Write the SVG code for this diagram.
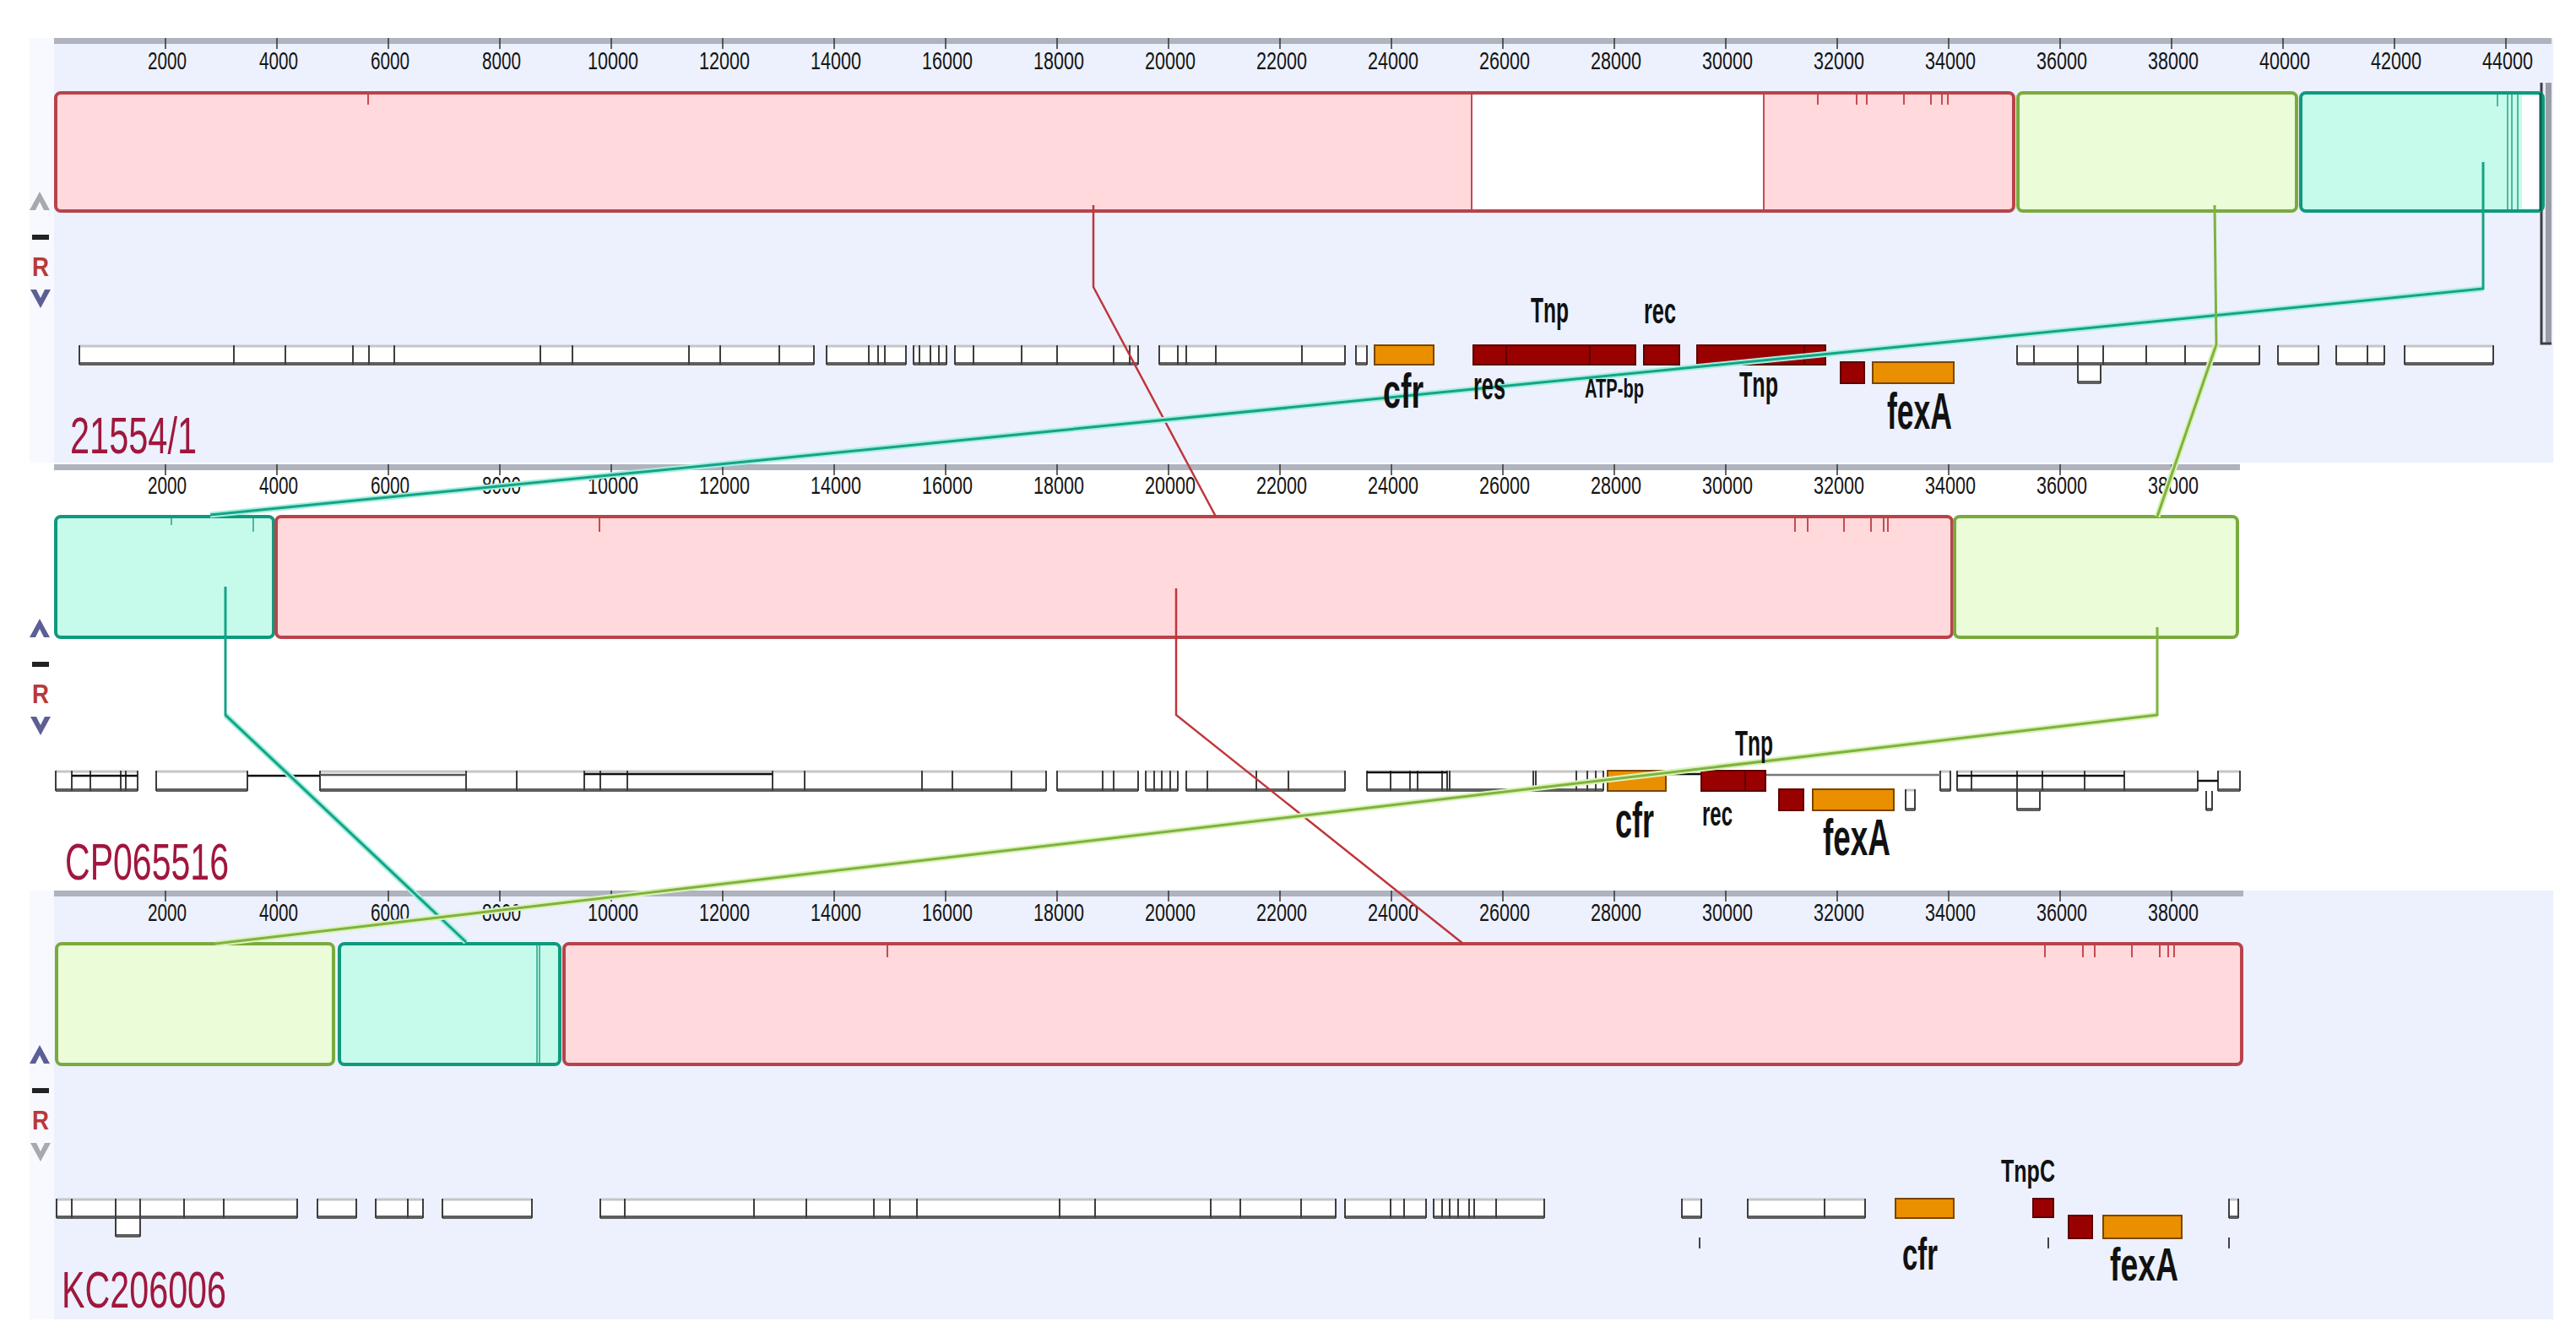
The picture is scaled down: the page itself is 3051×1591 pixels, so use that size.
<svg xmlns="http://www.w3.org/2000/svg" width="3051" height="1591" viewBox="0 0 3051 1591">
<style>
.bgp{fill:#ECF1FD}
.strip{fill:#F7F9FE}
.rul{fill:#AEB3BE}
.tick{stroke:#333;stroke-width:1.5;fill:none}
.tk{font-family:"Liberation Sans",Arial,sans-serif;font-size:30px;fill:#151515}
.pk{fill:#FFD9DB;stroke:#B8434A;stroke-width:4}
.gn{fill:#EAFCD8;stroke:#7AAA3E;stroke-width:4}
.tl{fill:#C6FBEB;stroke:#0E9A7D;stroke-width:4}
.pkl{stroke:#C84A52;stroke-width:2;fill:none}
.tll{stroke:#169C80;stroke-width:2;fill:none;opacity:0.7}
.gw{fill:#fff}
.gt{stroke:#C6C6C6;stroke-width:3;fill:none}
.gbm{stroke:#5E5E5E;stroke-width:4;fill:none}
.gd{stroke:#3E3E3E;stroke-width:2;fill:none}
.bl{stroke:#111;stroke-width:2.5;fill:none}
.or{fill:#E98F00;stroke:#7A4500;stroke-width:2}
.dr{fill:#990000;stroke:#5C0000;stroke-width:2}
.lab{font-family:"Liberation Sans",Arial,sans-serif;font-weight:bold;fill:#111}
.gname{font-family:"Liberation Sans",Arial,sans-serif;font-size:61px;fill:#A0173D}
.ctl{font-family:"Liberation Sans",Arial,sans-serif;font-weight:bold;font-size:32px;fill:#B83A36}
.cr{stroke:#C0353B;stroke-width:2.5;fill:none}
.ct{stroke:#14A388;stroke-width:3;fill:none}
.cth{stroke:#A6EEDC;stroke-width:7;fill:none}
.cg{stroke:#7FB23F;stroke-width:3;fill:none}
.cgh{stroke:#DAF2B8;stroke-width:7;fill:none}
</style>
<rect x="0" y="0" width="3051" height="1591" fill="#fff"/>
<g id="backgrounds">
<rect class="strip" x="35" y="45" width="29" height="503"/>
<rect class="bgp" x="64" y="45" width="2960" height="503"/>
<rect class="strip" x="35" y="1055" width="29" height="508"/>
<rect class="bgp" x="64" y="1055" width="2960" height="508"/>
</g>
<g id="rulers">
<rect class="rul" x="64" y="45" width="2958" height="7"/>
<rect class="rul" x="64" y="550" width="2589" height="7"/>
<rect class="rul" x="64" y="1055" width="2593" height="7"/>
<path class="tick" d="M196 45v13M328 45v13M460 45v13M592 45v13M724 45v13M856 45v13M988 45v13M1120 45v13M1252 45v13M1384 45v13M1516 45v13M1648 45v13M1780 45v13M1912 45v13M2044 45v13M2176 45v13M2308 45v13M2440 45v13M2572 45v13M2704 45v13M2836 45v13M2968 45v13"/>
<path class="tick" d="M196 550v13M328 550v13M460 550v13M592 550v13M724 550v13M856 550v13M988 550v13M1120 550v13M1252 550v13M1384 550v13M1516 550v13M1648 550v13M1780 550v13M1912 550v13M2044 550v13M2176 550v13M2308 550v13M2440 550v13M2572 550v13"/>
<path class="tick" d="M196 1055v13M328 1055v13M460 1055v13M592 1055v13M724 1055v13M856 1055v13M988 1055v13M1120 1055v13M1252 1055v13M1384 1055v13M1516 1055v13M1648 1055v13M1780 1055v13M1912 1055v13M2044 1055v13M2176 1055v13M2308 1055v13M2440 1055v13M2572 1055v13"/>
<g class="tk">
<text x="175" y="82" textLength="46" lengthAdjust="spacingAndGlyphs">2000</text>
<text x="307" y="82" textLength="46" lengthAdjust="spacingAndGlyphs">4000</text>
<text x="439" y="82" textLength="46" lengthAdjust="spacingAndGlyphs">6000</text>
<text x="571" y="82" textLength="46" lengthAdjust="spacingAndGlyphs">8000</text>
<text x="696" y="82" textLength="60" lengthAdjust="spacingAndGlyphs">10000</text>
<text x="828" y="82" textLength="60" lengthAdjust="spacingAndGlyphs">12000</text>
<text x="960" y="82" textLength="60" lengthAdjust="spacingAndGlyphs">14000</text>
<text x="1092" y="82" textLength="60" lengthAdjust="spacingAndGlyphs">16000</text>
<text x="1224" y="82" textLength="60" lengthAdjust="spacingAndGlyphs">18000</text>
<text x="1356" y="82" textLength="60" lengthAdjust="spacingAndGlyphs">20000</text>
<text x="1488" y="82" textLength="60" lengthAdjust="spacingAndGlyphs">22000</text>
<text x="1620" y="82" textLength="60" lengthAdjust="spacingAndGlyphs">24000</text>
<text x="1752" y="82" textLength="60" lengthAdjust="spacingAndGlyphs">26000</text>
<text x="1884" y="82" textLength="60" lengthAdjust="spacingAndGlyphs">28000</text>
<text x="2016" y="82" textLength="60" lengthAdjust="spacingAndGlyphs">30000</text>
<text x="2148" y="82" textLength="60" lengthAdjust="spacingAndGlyphs">32000</text>
<text x="2280" y="82" textLength="60" lengthAdjust="spacingAndGlyphs">34000</text>
<text x="2412" y="82" textLength="60" lengthAdjust="spacingAndGlyphs">36000</text>
<text x="2544" y="82" textLength="60" lengthAdjust="spacingAndGlyphs">38000</text>
<text x="2676" y="82" textLength="60" lengthAdjust="spacingAndGlyphs">40000</text>
<text x="2808" y="82" textLength="60" lengthAdjust="spacingAndGlyphs">42000</text>
<text x="2940" y="82" textLength="60" lengthAdjust="spacingAndGlyphs">44000</text>
<text x="175" y="585" textLength="46" lengthAdjust="spacingAndGlyphs">2000</text>
<text x="307" y="585" textLength="46" lengthAdjust="spacingAndGlyphs">4000</text>
<text x="439" y="585" textLength="46" lengthAdjust="spacingAndGlyphs">6000</text>
<text x="571" y="585" textLength="46" lengthAdjust="spacingAndGlyphs">8000</text>
<text x="696" y="585" textLength="60" lengthAdjust="spacingAndGlyphs">10000</text>
<text x="828" y="585" textLength="60" lengthAdjust="spacingAndGlyphs">12000</text>
<text x="960" y="585" textLength="60" lengthAdjust="spacingAndGlyphs">14000</text>
<text x="1092" y="585" textLength="60" lengthAdjust="spacingAndGlyphs">16000</text>
<text x="1224" y="585" textLength="60" lengthAdjust="spacingAndGlyphs">18000</text>
<text x="1356" y="585" textLength="60" lengthAdjust="spacingAndGlyphs">20000</text>
<text x="1488" y="585" textLength="60" lengthAdjust="spacingAndGlyphs">22000</text>
<text x="1620" y="585" textLength="60" lengthAdjust="spacingAndGlyphs">24000</text>
<text x="1752" y="585" textLength="60" lengthAdjust="spacingAndGlyphs">26000</text>
<text x="1884" y="585" textLength="60" lengthAdjust="spacingAndGlyphs">28000</text>
<text x="2016" y="585" textLength="60" lengthAdjust="spacingAndGlyphs">30000</text>
<text x="2148" y="585" textLength="60" lengthAdjust="spacingAndGlyphs">32000</text>
<text x="2280" y="585" textLength="60" lengthAdjust="spacingAndGlyphs">34000</text>
<text x="2412" y="585" textLength="60" lengthAdjust="spacingAndGlyphs">36000</text>
<text x="2544" y="585" textLength="60" lengthAdjust="spacingAndGlyphs">38000</text>
<text x="175" y="1091" textLength="46" lengthAdjust="spacingAndGlyphs">2000</text>
<text x="307" y="1091" textLength="46" lengthAdjust="spacingAndGlyphs">4000</text>
<text x="439" y="1091" textLength="46" lengthAdjust="spacingAndGlyphs">6000</text>
<text x="571" y="1091" textLength="46" lengthAdjust="spacingAndGlyphs">8000</text>
<text x="696" y="1091" textLength="60" lengthAdjust="spacingAndGlyphs">10000</text>
<text x="828" y="1091" textLength="60" lengthAdjust="spacingAndGlyphs">12000</text>
<text x="960" y="1091" textLength="60" lengthAdjust="spacingAndGlyphs">14000</text>
<text x="1092" y="1091" textLength="60" lengthAdjust="spacingAndGlyphs">16000</text>
<text x="1224" y="1091" textLength="60" lengthAdjust="spacingAndGlyphs">18000</text>
<text x="1356" y="1091" textLength="60" lengthAdjust="spacingAndGlyphs">20000</text>
<text x="1488" y="1091" textLength="60" lengthAdjust="spacingAndGlyphs">22000</text>
<text x="1620" y="1091" textLength="60" lengthAdjust="spacingAndGlyphs">24000</text>
<text x="1752" y="1091" textLength="60" lengthAdjust="spacingAndGlyphs">26000</text>
<text x="1884" y="1091" textLength="60" lengthAdjust="spacingAndGlyphs">28000</text>
<text x="2016" y="1091" textLength="60" lengthAdjust="spacingAndGlyphs">30000</text>
<text x="2148" y="1091" textLength="60" lengthAdjust="spacingAndGlyphs">32000</text>
<text x="2280" y="1091" textLength="60" lengthAdjust="spacingAndGlyphs">34000</text>
<text x="2412" y="1091" textLength="60" lengthAdjust="spacingAndGlyphs">36000</text>
<text x="2544" y="1091" textLength="60" lengthAdjust="spacingAndGlyphs">38000</text>
</g>
</g>
<g id="scrollbar">
<rect x="3009" y="98" width="13" height="309" fill="#E8EAF0"/>
<rect x="3015" y="98" width="7" height="309" fill="#9A9DA6"/>
<path d="M3010 98V407H3022" stroke="#3D3D44" stroke-width="3" fill="none"/>
</g>
<g id="lcb-red-1">
<rect class="pk" x="66" y="110" width="2319" height="140" rx="6"/>
<rect x="1743" y="112" width="346" height="136" fill="#fff"/>
<path class="pkl" d="M1743 112V248M2089 112V248M436 112v12M2153 112v12M2199 112v12M2211 112v12M2255 112v12M2287 112v12M2300 112v12M2307 112v12"/>
</g>
<g id="lcb-green-1">
<rect class="gn" x="2390" y="110" width="330" height="140" rx="6"/>
</g>
<g id="lcb-teal-1">
<rect class="tl" x="2725" y="110" width="287" height="140" rx="6"/>
<rect x="2987" y="113" width="21" height="134" fill="#fff"/>
<path class="tll" d="M2958 112v14M2970 112V248M2975 112V248M2982 112V248"/>
<path d="M3009 110V250" stroke="#0B5E4C" stroke-width="3"/>
</g>
<g id="lcb-teal-2">
<rect class="tl" x="66" y="612" width="258" height="143" rx="6"/>
<path class="tll" d="M203 614v8M300 614v16"/>
</g>
<g id="lcb-red-2">
<rect class="pk" x="327" y="612" width="1985" height="143" rx="6"/>
<path class="pkl" d="M710 614v16M2126 614v16M2141 614v16M2184 614v16M2216 614v16M2231 614v16M2236 614v16"/>
</g>
<g id="lcb-green-2">
<rect class="gn" x="2315" y="612" width="335" height="143" rx="6"/>
</g>
<g id="lcb-green-3">
<rect class="gn" x="67" y="1118" width="328" height="143" rx="6"/>
</g>
<g id="lcb-teal-3">
<rect class="tl" x="402" y="1118" width="261" height="143" rx="6"/>
<path class="tll" d="M636 1120V1259M639 1120V1259"/>
</g>
<g id="lcb-red-3">
<rect class="pk" x="668" y="1118" width="1987" height="143" rx="6"/>
<path class="pkl" d="M1051 1120v14M2422 1120v14M2467 1120v14M2481 1120v14M2525 1120v14M2558 1120v14M2568 1120v14M2575 1120v14"/>
</g>
<g id="genes-21554-1">
<g class="gw">
<rect x="94" y="409" width="870" height="23"/><rect x="979" y="409" width="94" height="23"/><rect x="1082" y="409" width="39" height="23"/><rect x="1131" y="409" width="217" height="23"/><rect x="1373" y="409" width="220" height="23"/><rect x="1606" y="409" width="13" height="23"/><rect x="2389" y="409" width="287" height="23"/><rect x="2461" y="432" width="27" height="22"/><rect x="2698" y="409" width="48" height="23"/><rect x="2767" y="409" width="57" height="23"/><rect x="2848" y="409" width="105" height="23"/>
</g>
<path class="gt" d="M94 410H964M979 410H1073M1082 410H1121M1131 410H1348M1373 410H1593M1606 410H1619M2389 410H2676M2698 410H2746M2767 410H2824M2848 410H2953"/>
<path class="gbm" d="M94 431H964M979 431H1073M1082 431H1121M1131 431H1348M1373 431H1593M1606 431H1619M2389 431H2676M2698 431H2746M2767 431H2824M2848 431H2953M2461 453H2488"/>
<path class="gd" d="M94 409v23M277 409v23M338 409v23M418 409v23M437 409v23M467 409v23M640 409v23M678 409v23M816 409v23M853 409v23M923 409v23M964 409v23M979 409v23M1029 409v23M1040 409v23M1048 409v23M1073 409v23M1082 409v23M1089 409v23M1102 409v23M1112 409v23M1121 409v23M1131 409v23M1153 409v23M1210 409v23M1252 409v23M1319 409v23M1338 409v23M1348 409v23M1373 409v23M1395 409v23M1405 409v23M1440 409v23M1542 409v23M1593 409v23M1606 409v23M1619 409v23M2389 409v23M2409 409v23M2461 409v45M2488 432v22M2491 409v23M2542 409v23M2588 409v23M2676 409v23M2698 409v23M2746 409v23M2767 409v23M2804 409v23M2824 409v23M2848 409v23M2953 409v23"/>
<rect id="cfr-1" class="or" x="1628" y="409" width="70" height="23"/>
<rect id="res-tnp-atp" class="dr" x="1745" y="409" width="192" height="23"/>
<path d="M1784 409v23M1883 409v23" stroke="#5C0000" stroke-width="2"/>
<rect id="rec-1" class="dr" x="1947" y="409" width="42" height="23"/>
<rect id="tnp-1" class="dr" x="2010" y="409" width="152" height="23"/>
<path d="M2137 409v23" stroke="#5C0000" stroke-width="2"/>
<rect class="dr" x="2180" y="429" width="28" height="25"/>
<rect id="fexA-1" class="or" x="2218" y="429" width="96" height="25"/>
</g>
<g id="genes-CP065516">
<g class="gw">
<rect x="66" y="913" width="97" height="24"/><rect x="185" y="913" width="108" height="24"/><rect x="379" y="913" width="860" height="24"/><rect x="1252" y="913" width="96" height="24"/><rect x="1357" y="913" width="38" height="24"/><rect x="1405" y="913" width="188" height="24"/><rect x="1619" y="913" width="280" height="24"/><rect x="2298" y="913" width="12" height="24"/><rect x="2318" y="913" width="285" height="24"/><rect x="2627" y="913" width="26" height="24"/><rect x="2389" y="937" width="27" height="23"/><rect x="2613" y="937" width="7" height="23"/><rect x="2257" y="935" width="11" height="25"/>
</g>
<path class="gt" d="M66 914H163M185 914H293M379 914H1239M1252 914H1348M1357 914H1395M1405 914H1593M1619 914H1899M2298 914H2310M2318 914H2603M2627 914H2653M2257 936H2268"/>
<path class="gbm" d="M66 936H163M185 936H293M379 936H1239M1252 936H1348M1357 936H1395M1405 936H1593M1619 936H1899M2298 936H2310M2318 936H2603M2627 936H2653M2389 959H2416M2613 959H2620M2257 959H2268"/>
<path class="gd" d="M66 913v24M85 913v24M107 913v24M143 913v24M149 913v24M163 913v24M185 913v24M293 913v24M379 913v24M552 913v24M612 913v24M692 913v24M711 913v24M743 913v24M915 913v24M953 913v24M1092 913v24M1128 913v24M1198 913v24M1239 913v24M1252 913v24M1306 913v24M1319 913v24M1348 913v24M1357 913v24M1367 913v24M1376 913v24M1386 913v24M1395 913v24M1405 913v24M1430 913v24M1488 913v24M1526 913v24M1593 913v24M1619 913v24M1647 913v24M1670 913v24M1679 913v24M1708 913v24M1714 913v24M1717 913v24M1816 913v24M1819 913v24M1867 913v24M1880 913v24M1890 913v24M1899 913v24M2298 913v24M2310 913v24M2318 913v24M2335 913v24M2389 913v47M2416 937v23M2419 913v24M2469 913v24M2516 913v24M2603 913v24M2613 937v23M2620 937v23M2627 913v24M2653 913v24M2257 935v25M2268 935v25"/>
<path class="bl" d="M85 919H163M293 919H379M692 917H915M1619 915H1714M1973 917H2015M2318 919H2516M2603 925H2627"/>
<path d="M379 918H552" stroke="#555" stroke-width="2.5"/>
<path d="M2091 918H2298" stroke="#777" stroke-width="2.5"/>
<rect id="cfr-2" class="or" x="1904" y="913" width="69" height="24"/>
<rect id="rec-tnp-2" class="dr" x="2015" y="913" width="76" height="24"/>
<path d="M2067 913v24" stroke="#5C0000" stroke-width="2"/>
<rect class="dr" x="2107" y="935" width="29" height="25"/>
<rect id="fexA-2" class="or" x="2147" y="935" width="96" height="25"/>
</g>
<g id="genes-KC206006" transform="translate(0,14)">
<g class="gw">
<rect x="67" y="1406" width="285" height="23"/><rect x="376" y="1406" width="46" height="23"/><rect x="445" y="1406" width="56" height="23"/><rect x="524" y="1406" width="106" height="23"/><rect x="711" y="1406" width="871" height="23"/><rect x="1593" y="1406" width="96" height="23"/><rect x="1698" y="1406" width="131" height="23"/><rect x="1992" y="1406" width="23" height="23"/><rect x="2070" y="1406" width="139" height="23"/><rect x="2640" y="1406" width="11" height="23"/><rect x="137" y="1429" width="29" height="22"/>
</g>
<path class="gt" d="M67 1407H352M376 1407H422M445 1407H501M524 1407H630M711 1407H1582M1593 1407H1689M1698 1407H1829M1992 1407H2015M2070 1407H2209M2640 1407H2651"/>
<path class="gbm" d="M67 1428H352M376 1428H422M445 1428H501M524 1428H630M711 1428H1582M1593 1428H1689M1698 1428H1829M1992 1428H2015M2070 1428H2209M2640 1428H2651M137 1450H166"/>
<path class="gd" d="M67 1406v23M85 1406v23M137 1406v45M166 1406v45M218 1406v23M265 1406v23M352 1406v23M376 1406v23M422 1406v23M445 1406v23M483 1406v23M501 1406v23M524 1406v23M630 1406v23M711 1406v23M740 1406v23M893 1406v23M955 1406v23M1035 1406v23M1054 1406v23M1086 1406v23M1255 1406v23M1297 1406v23M1434 1406v23M1469 1406v23M1541 1406v23M1582 1406v23M1593 1406v23M1647 1406v23M1663 1406v23M1689 1406v23M1698 1406v23M1708 1406v23M1717 1406v23M1727 1406v23M1740 1406v23M1746 1406v23M1772 1406v23M1829 1406v23M1992 1406v23M2015 1406v23M2070 1406v23M2161 1406v23M2209 1406v23M2640 1406v23M2651 1406v23"/>
<path d="M2013 1452v13M2426 1452v13M2640 1452v13" stroke="#444" stroke-width="2"/>
<rect id="cfr-3" class="or" x="2245" y="1406" width="69" height="23"/>
<rect id="tnpC-3" class="dr" x="2408" y="1406" width="24" height="22"/>
<rect class="dr" x="2450" y="1426" width="28" height="27"/>
<rect id="fexA-3" class="or" x="2491" y="1426" width="93" height="27"/>
</g>
<g id="connectors">
<polyline class="cr" points="1295,243 1295,340 1440,612"/>
<polyline class="cr" points="1393,697 1393,847 1733,1118"/>
<polyline class="cth" points="2941,342 249,610"/>
<polyline class="ct" points="2941,192 2941,342 249,610"/>
<polyline class="cth" points="267,847 552,1116"/>
<polyline class="ct" points="267,695 267,847 552,1116"/>
<polyline class="cgh" points="2625,408 2555,612"/>
<polyline class="cg" points="2623,243 2625,408 2555,612"/>
<polyline class="cgh" points="2555,847 255,1118"/>
<polyline class="cg" points="2555,743 2555,847 255,1118"/>
</g>
<g id="gene-labels" class="lab">
<text x="1813" y="382" font-size="42" textLength="45" lengthAdjust="spacingAndGlyphs">Tnp</text>
<text x="1947" y="383" font-size="42" textLength="38" lengthAdjust="spacingAndGlyphs">rec</text>
<text x="1638" y="483" font-size="58" textLength="48" lengthAdjust="spacingAndGlyphs">cfr</text>
<text x="1745" y="473" font-size="46" textLength="38" lengthAdjust="spacingAndGlyphs">res</text>
<text x="1877" y="471" font-size="31" textLength="70" lengthAdjust="spacingAndGlyphs">ATP-bp</text>
<text x="2060" y="470" font-size="42" textLength="46" lengthAdjust="spacingAndGlyphs">Tnp</text>
<text x="2235" y="508" font-size="62" textLength="77" lengthAdjust="spacingAndGlyphs">fexA</text>
<text x="2055" y="895" font-size="42" textLength="45" lengthAdjust="spacingAndGlyphs">Tnp</text>
<text x="2016" y="978" font-size="40" textLength="36" lengthAdjust="spacingAndGlyphs">rec</text>
<text x="1913" y="992" font-size="60" textLength="46" lengthAdjust="spacingAndGlyphs">cfr</text>
<text x="2159" y="1013" font-size="62" textLength="80" lengthAdjust="spacingAndGlyphs">fexA</text>
<text x="2370" y="1400" font-size="36" textLength="64" lengthAdjust="spacingAndGlyphs">TnpC</text>
<text x="2253" y="1504" font-size="53" textLength="42" lengthAdjust="spacingAndGlyphs">cfr</text>
<text x="2499" y="1517" font-size="55" textLength="81" lengthAdjust="spacingAndGlyphs">fexA</text>
</g>
<g id="genome-labels" class="gname">
<text x="83" y="537" textLength="150" lengthAdjust="spacingAndGlyphs">21554/1</text>
<text x="77" y="1042" textLength="194" lengthAdjust="spacingAndGlyphs">CP065516</text>
<text x="73" y="1549" textLength="195" lengthAdjust="spacingAndGlyphs">KC206006</text>
</g>
<g id="controls-1">
<path d="M35 249L47 227L59 249L52 249L47 239L42 249Z" fill="#A7A9AE"/>
<rect x="38" y="278" width="20" height="6" fill="#222"/>
<text class="ctl" x="38" y="327" textLength="20" lengthAdjust="spacingAndGlyphs">R</text>
<path d="M36 343L43 343L48 353L53 343L60 343L48 365Z" fill="#5B5F95"/>
</g>
<g id="controls-2" transform="translate(0,506)">
<path d="M35 249L47 227L59 249L52 249L47 239L42 249Z" fill="#5B5F95"/>
<rect x="38" y="278" width="20" height="6" fill="#222"/>
<text class="ctl" x="38" y="327" textLength="20" lengthAdjust="spacingAndGlyphs">R</text>
<path d="M36 343L43 343L48 353L53 343L60 343L48 365Z" fill="#5B5F95"/>
</g>
<g id="controls-3" transform="translate(0,1011)">
<path d="M35 249L47 227L59 249L52 249L47 239L42 249Z" fill="#5B5F95"/>
<rect x="38" y="278" width="20" height="6" fill="#222"/>
<text class="ctl" x="38" y="327" textLength="20" lengthAdjust="spacingAndGlyphs">R</text>
<path d="M36 343L43 343L48 353L53 343L60 343L48 365Z" fill="#A7A9AE"/>
</g>
</svg>
